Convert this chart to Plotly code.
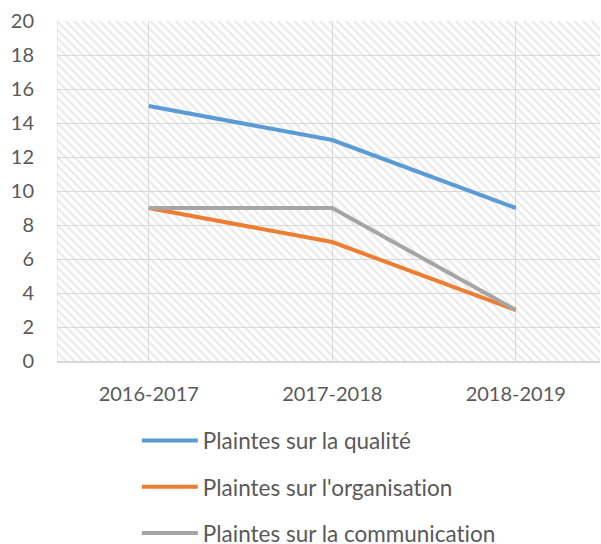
import plotly.graph_objects as go

categories = ["2016-2017", "2017-2018", "2018-2019"]
qualite = [15, 13, 9]
organisation = [9, 7, 3]
communication = [9, 9, 3]
series_names = ["Plaintes sur la qualité", "Plaintes sur l'organisation", "Plaintes sur la communication"]
colors = ["#5B9BD5", "#ED7D31", "#A5A5A5"]
y_ticks = list(range(0, 21, 2))

x_idx = list(range(len(categories)))
x_min, x_max = -0.5, 2.459
y_min, y_max = 0, 20

FONT = "Lato"
fig = go.Figure()

# hatched plot background
fig.add_trace(go.Scatter(
    x=[x_min, x_max, x_max, x_min, x_min], y=[y_min, y_min, y_max, y_max, y_min],
    mode="none", fill="toself", fillcolor="rgba(255,255,255,0)",
    fillpattern=dict(shape="\\", size=6, solidity=0.38, fgcolor="#d6d6d6",
                     bgcolor="rgba(255,255,255,0)", fillmode="overlay"),
    hoverinfo="skip", showlegend=False))

for name, vals, col in zip(series_names, [qualite, organisation, communication], colors):
    fig.add_trace(go.Scatter(x=x_idx, y=vals, name=name, mode="lines",
                             line=dict(color=col, width=4), legendgroup=name))

fig.update_layout(
    width=601, height=544,
    margin=dict(l=57, r=1, t=21, b=183, autoexpand=False),
    paper_bgcolor="white", plot_bgcolor="white",
    font=dict(family=FONT, size=20, color="#595959"),
    showlegend=True,
    legend=dict(orientation="v", x=0.147, xanchor="left", y=-0.172, yanchor="top",
                tracegroupgap=14, itemwidth=56, font=dict(size=22.5, color="#595959")),
)
fig.update_xaxes(range=[x_min, x_max], tickvals=x_idx, ticktext=categories,
                 showgrid=True, gridcolor="#d9d9d9", gridwidth=1, zeroline=False,
                 showline=True, linecolor="#d9d9d9", linewidth=2, automargin=False,
                 ticks="outside", ticklen=14, tickcolor="rgba(0,0,0,0)")
fig.update_yaxes(range=[y_min, y_max], tickvals=y_ticks, showgrid=True,
                 gridcolor="#d9d9d9", gridwidth=1, zeroline=False, automargin=False,
                 ticks="outside", ticklen=18, tickcolor="rgba(0,0,0,0)")
# left border gridline
fig.add_shape(type="line", xref="x", yref="y", x0=x_min, x1=x_min, y0=y_min, y1=y_max,
              line=dict(color="#d9d9d9", width=1), layer="below")

post = ("document.body.style.margin='0';document.body.style.overflow='hidden';"
        "var s=document.createElement('style');"
        "s.textContent='.main-svg text{font-variant-ligatures:none;font-feature-settings:\"liga\" 0,\"dlig\" 0;}';"
        "document.head.appendChild(s);")
fig.write_html("out.html", post_script=post, config={"displayModeBar": False})
